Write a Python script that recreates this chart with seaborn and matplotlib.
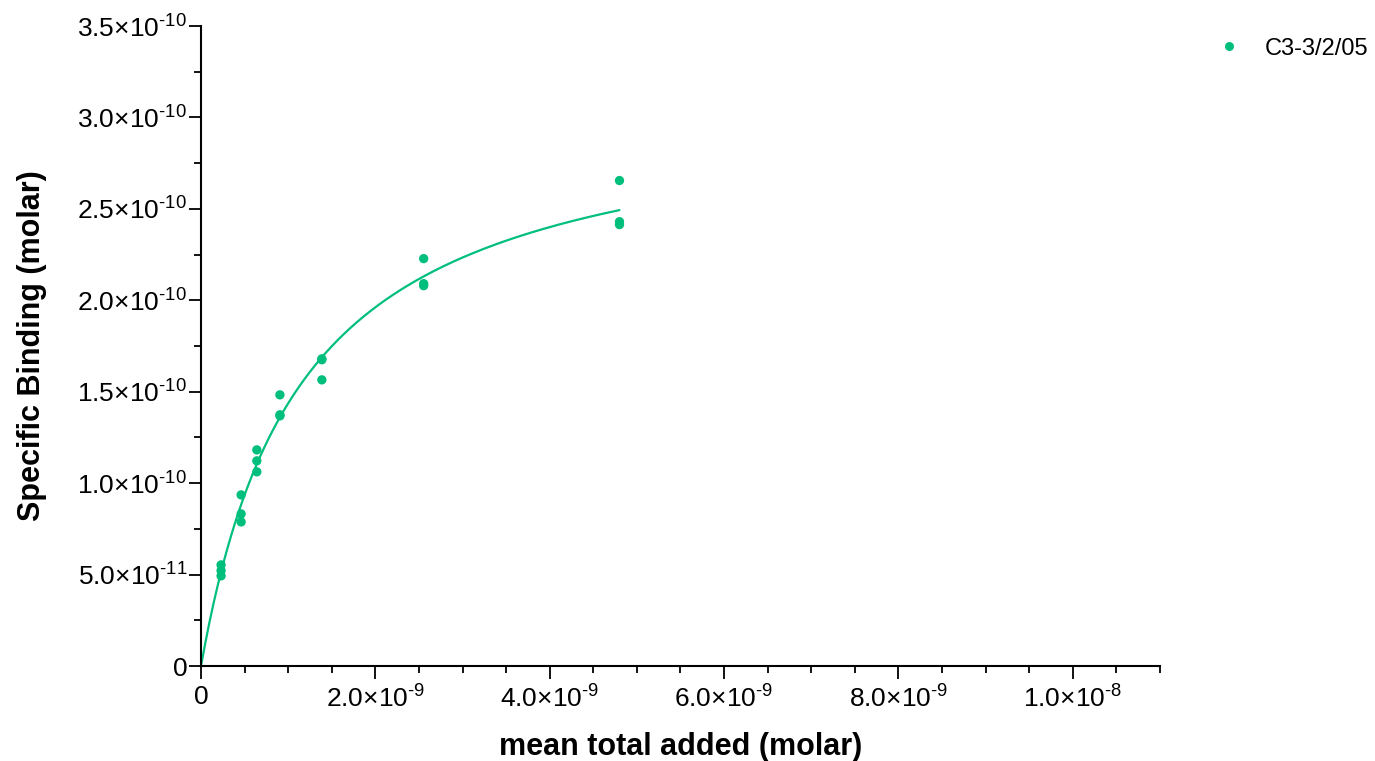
import numpy as np
import pandas as pd
import matplotlib
matplotlib.use("Agg")
import matplotlib.pyplot as plt
import seaborn as sns
from matplotlib.ticker import FuncFormatter

# data (molar)
conc = [0.23e-9, 0.23e-9, 0.23e-9,
        0.46e-9, 0.46e-9, 0.46e-9,
        0.64e-9, 0.64e-9, 0.64e-9,
        0.905e-9, 0.905e-9, 0.905e-9,
        1.386e-9, 1.386e-9, 1.386e-9,
        2.554e-9, 2.554e-9, 2.554e-9,
        4.80e-9, 4.80e-9, 4.80e-9]
bound = [0.553e-10, 0.522e-10, 0.493e-10,
         0.936e-10, 0.832e-10, 0.788e-10,
         1.182e-10, 1.122e-10, 1.062e-10,
         1.483e-10, 1.374e-10, 1.368e-10,
         1.680e-10, 1.675e-10, 1.565e-10,
         2.228e-10, 2.091e-10, 2.080e-10,
         2.655e-10, 2.430e-10, 2.414e-10]
series_name = "C3-3/2/05"
color = "#00BF7D"

x_major = [0, 2e-9, 4e-9, 6e-9, 8e-9, 1e-8]
y_major = [0, 5e-11, 1e-10, 1.5e-10, 2e-10, 2.5e-10, 3e-10, 3.5e-10]

df = pd.DataFrame({"x": conc, "y": bound, "set": series_name})

# one-site binding fit: B = Bmax*x/(Kd+x), grid over Kd, Bmax by least squares
x = np.array(conc)
y = np.array(bound)
best = None
for kd in np.linspace(0.3e-9, 4e-9, 3000):
    f = x / (kd + x)
    bmax = (f @ y) / (f @ f)
    sse = np.sum((y - bmax * f) ** 2)
    if best is None or sse < best[0]:
        best = (sse, kd, bmax)
_, kd, bmax = best
xs = np.linspace(0, max(conc), 300)
fit = pd.DataFrame({"x": xs, "y": bmax * xs / (kd + xs)})

sns.set_style("ticks")
plt.rcParams["font.family"] = ["Liberation Sans", "DejaVu Sans"]
plt.rcParams["mathtext.fontset"] = "custom"
plt.rcParams["mathtext.rm"] = "Liberation Sans"
plt.rcParams["mathtext.it"] = "Liberation Sans"
for k in ["text.color", "axes.labelcolor", "xtick.color", "ytick.color"]:
    plt.rcParams[k] = "black"

fig = plt.figure(figsize=(13.75, 7.61), dpi=100)
ax = fig.add_axes([0.1462, 0.1248, 0.8436 - 0.1462, 0.9658 - 0.1248])

sns.lineplot(data=fit, x="x", y="y", color=color, linewidth=1.6, ax=ax, legend=False)
sns.scatterplot(data=df, x="x", y="y", color=color, s=45, edgecolor="none",
                ax=ax, zorder=3, legend=False)


def sci(v, pos):
    if abs(v) < 1e-30:
        return "0"
    e = int(np.floor(np.log10(abs(v)) + 1e-9))
    m = v / 10 ** e
    return r"$%.1f{\times}10^{\text{%d}}$" % (m, e)


ax.set_xticks(x_major)
ax.set_yticks(y_major)
ax.set_xticks(np.arange(5e-10, 1.1e-8 + 1e-12, 5e-10), minor=True)
ax.set_yticks(np.arange(2.5e-11, 3.5e-10, 2.5e-11), minor=True)
ax.xaxis.set_major_formatter(FuncFormatter(sci))
ax.yaxis.set_major_formatter(FuncFormatter(sci))
ax.set_xlim(0, 1.1e-8)
ax.set_ylim(0, 3.5e-10)

ax.tick_params(which="major", length=9, width=1.3, labelsize=19)
ax.tick_params(axis="x", which="major", pad=5)
ax.tick_params(axis="y", which="major", pad=1)
ax.tick_params(which="minor", length=5, width=1.3)
for s in ["left", "bottom"]:
    ax.spines[s].set_linewidth(1.5)
    ax.spines[s].set_color("black")
sns.despine(ax=ax)

ax.set_xlabel("mean total added (molar)", fontsize=22, fontweight="bold", labelpad=14)
ax.set_ylabel("Specific Binding (molar)", fontsize=22, fontweight="bold", labelpad=22)

handles = [plt.Line2D([], [], marker="o", linestyle="none", color=color,
                      markersize=6.5, markeredgewidth=0)]
fig.legend(handles, [series_name], loc="upper left",
           bbox_to_anchor=(1212 / 1375, 1 - 33 / 761), frameon=False,
           fontsize=17, handlelength=1.0, handletextpad=1.03, borderpad=0.2,
           borderaxespad=0)

fig.savefig("out.png", dpi=100)
